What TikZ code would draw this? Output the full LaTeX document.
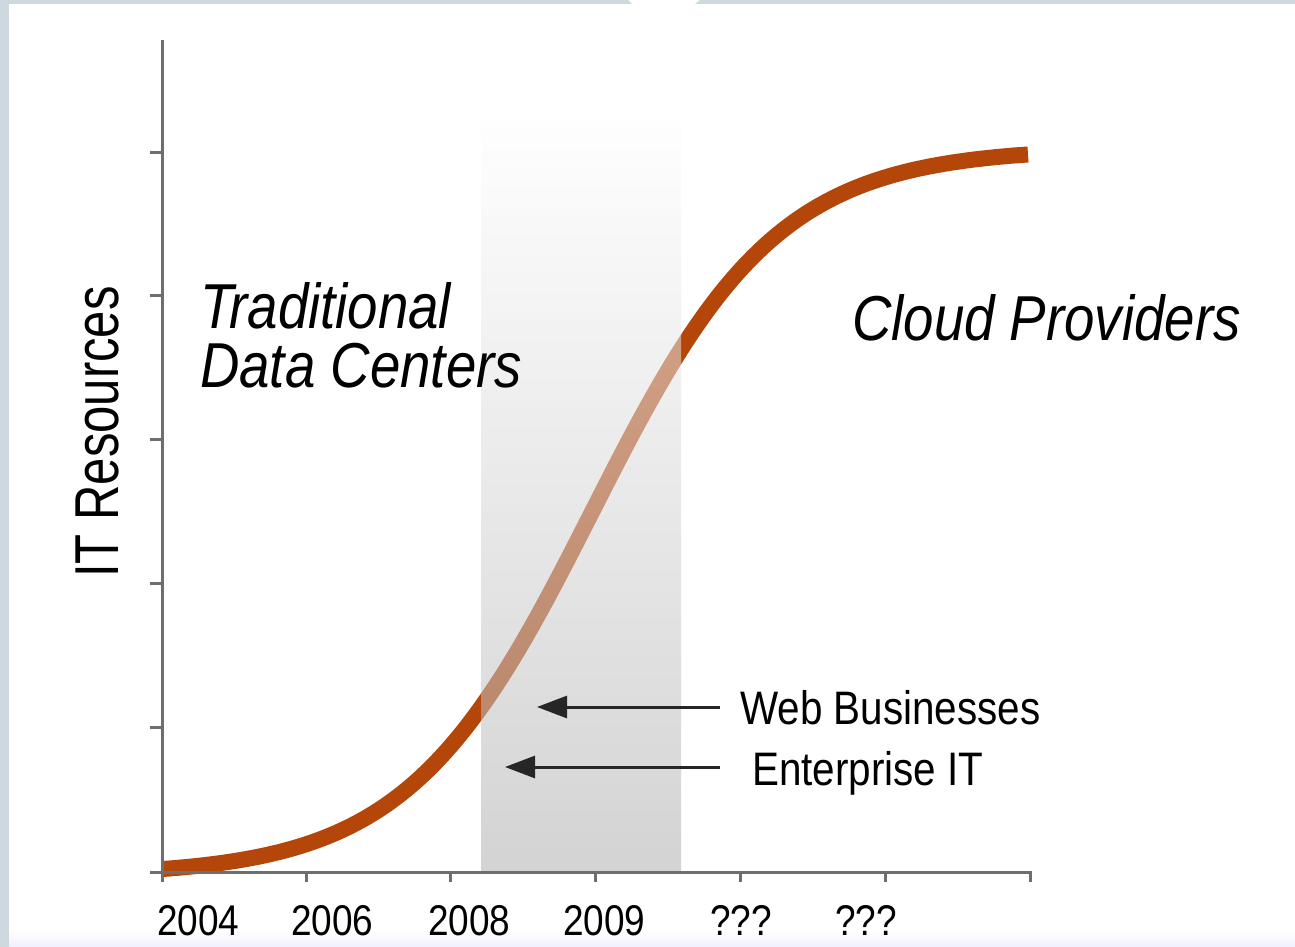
\documentclass[tikz,border=0pt]{standalone}
\usepackage{fontspec}
\setmainfont{Liberation Sans}
\newfontfamily\cond[FakeStretch=0.86]{Liberation Sans}
\newfontfamily\condr[FakeStretch=0.79]{Liberation Sans}
\usetikzlibrary{arrows.meta}
\definecolor{frame}{HTML}{CDD9DE}
\definecolor{curvec}{HTML}{B5460A}
\definecolor{axisc}{HTML}{6E6E6E}
\definecolor{bandc}{HTML}{B0B0B0}
\tikzset{
  axisline/.style={draw=axisc, line width=3pt},
  bigital/.style={font=\cond\itshape\fontsize{63.5}{70}\selectfont, inner sep=0pt, anchor=base west},
  lbl/.style={font=\cond\fontsize{47}{52}\selectfont, inner sep=0pt, anchor=base west},
  yearlbl/.style={font=\cond\fontsize{43}{48}\selectfont, inner sep=0pt, anchor=base west},
  arr/.style={draw=black!85, line width=3pt, -{Triangle[length=30pt,width=22pt]}},
}
\begin{document}
\begin{tikzpicture}[x=1pt,y=-1pt]
\useasboundingbox (0,0) rectangle (1295,947);
% frame
\fill[white] (0,0) rectangle (1295,947);
\fill[frame] (0,0) rectangle (9,947);
\fill[frame] (0,0) -- (628,0) -- (632,4) -- (0,4) -- cycle;
\fill[frame] (700,0) -- (1295,0) -- (1295,4) -- (695,4) -- cycle;
\shade[top color=white, bottom color=blue!6] (9,930) rectangle (1295,947);
% curve
\draw[curvec, line width=16pt, line cap=butt]
  plot[domain=162:1028, samples=220, smooth] (\x, {876-728/(1+exp(-0.0108*(\x-592)))});
% band
\shade[top color=white, bottom color=bandc, opacity=0.55] (481,115) rectangle (681,873);
% axes
\draw[axisline] (162,40) -- (162,882);
\draw[axisline] (150,872) -- (1030,872) -- (1030,882);
\foreach \yy in {152,295,439,583,727} \draw[axisline] (150,\yy) -- (162,\yy);
\foreach \xx in {306,450,595,740,885} \draw[axisline] (\xx,872) -- (\xx,882);
% labels
\node[font=\condr\fontsize{62}{70}\selectfont, inner sep=0pt, rotate=90, anchor=base] (ylab) at (118,432) {IT Resources};
\node[bigital] (trad1) at (200,328) {Traditional};
\node[bigital] (trad2) at (200,387) {Data Centers};
\node[bigital] (cloud) at (852,340) {Cloud Providers};
\node[lbl] (web) at (740,724) {Web Businesses};
\node[lbl] (ent) at (752,785) {Enterprise IT};
\coordinate (webtip) at (537,707);
\coordinate (enttip) at (505,767);
\draw[arr] ([xshift=-20pt]web.west |- webtip) -- (webtip);
\draw[arr] ([xshift=-32pt]ent.west |- enttip) -- (enttip);
\node[yearlbl] (y1) at (157,935) {2004};
\node[yearlbl] (y2) at (291,935) {2006};
\node[yearlbl] (y3) at (428,935) {2008};
\node[yearlbl] (y4) at (563,935) {2009};
\node[yearlbl] (y5) at (710,935) {???};
\node[yearlbl] (y6) at (835,935) {???};
\end{tikzpicture}
\end{document}
